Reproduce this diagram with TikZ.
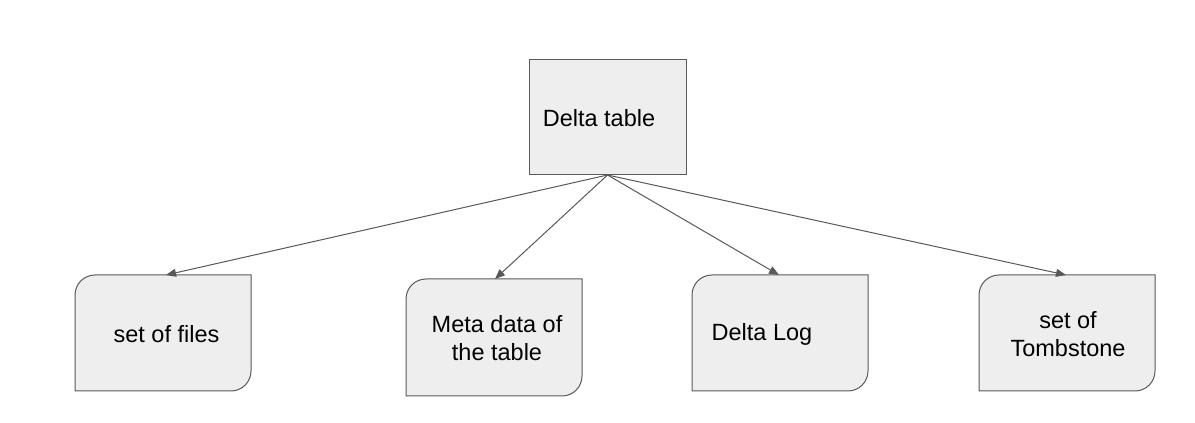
\documentclass[tikz,border=0pt]{standalone}
\usepackage{fontspec}
\setmainfont{Liberation Sans}
\usetikzlibrary{backgrounds,arrows.meta}
\definecolor{boxfill}{HTML}{EEEEEE}
\definecolor{edge}{HTML}{595959}
\tikzset{
  frame/.style={minimum width=#1, inner sep=0pt, outer sep=0pt},
  outline/.style={draw=edge, fill=boxfill, line width=1pt},
  conn/.style={draw=edge, line width=1pt, -{Triangle[length=10pt,width=8pt]}},
  lbl/.style={font=\fontsize{23.5}{28}\selectfont, align=center, inner sep=0pt}
}
\newcommand{\leafshape}[1]{%
  \draw[outline] (#1.north east) -- ([yshift=20pt]#1.south east)
    arc[start angle=0,end angle=-90,radius=20pt] -- (#1.south west)
    -- ([yshift=-20pt]#1.north west)
    arc[start angle=180,end angle=90,radius=20pt] -- cycle;}
\begin{document}
\begin{tikzpicture}[x=1pt,y=1pt]
\useasboundingbox (0,0) rectangle (1195,423);
\node[frame=157pt, minimum height=115pt] (top) at (607.5,305.5) {};
\node[frame=176pt, minimum height=116pt] (b1) at (163,90) {};
\node[frame=176pt, minimum height=117pt] (b2) at (494,85.5) {};
\node[frame=176pt, minimum height=116pt] (b3) at (780,90) {};
\node[frame=176pt, minimum height=116pt] (b4) at (1067,90) {};
\begin{scope}[on background layer]
  \fill[white] (0,0) rectangle (1195,423);
  \draw[outline] (top.south west) rectangle (top.north east);
  \leafshape{b1}
  \leafshape{b2}
  \leafshape{b3}
  \leafshape{b4}
\end{scope}
\node[lbl] (t0) at (599,305) {Delta table};
\node[lbl] (t1) at (166.5,89) {set of files};
\node[lbl] (t2) at (497,85) {Meta data of\\the table};
\node[lbl] (t3) at (762,89) {Delta Log};
\node[lbl] (t4) at (1068,89) {set of\\Tombstone};
\draw[conn] (top.south) -- ([xshift=3pt]b1.north);
\draw[conn] (top.south) -- ([xshift=1pt]b2.north);
\draw[conn] (top.south) -- ([xshift=-1pt]b3.north);
\draw[conn] (top.south) -- ([xshift=-1pt]b4.north);
\end{tikzpicture}
\end{document}
